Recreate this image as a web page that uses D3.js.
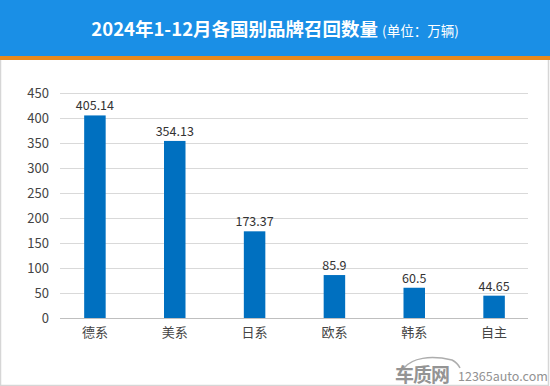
<!DOCTYPE html>
<html>
<head>
<meta charset="utf-8">
<script src="https://d3js.org/d3.v7.min.js"></script>
<style>
  body, html { margin: 0; padding: 0; background: #fff; }
  text { font-family: "Noto Sans CJK SC", "Microsoft YaHei", sans-serif; }
</style>
</head>
<body>
<div id="chart"></div>
<script>
var categories = ["德系", "美系", "日系", "欧系", "韩系", "自主"];
var recalls = [405.14, 354.13, 173.37, 85.9, 60.5, 44.65];
var yTicks = [0, 50, 100, 150, 200, 250, 300, 350, 400, 450];
var title = "2024年1-12月各国别品牌召回数量";
var unit = "(单位：万辆)";

var W = 550, H = 386;
var svg = d3.select("#chart").append("svg")
    .attr("width", W).attr("height", H);

// header
svg.append("rect").attr("x", 0).attr("y", 0).attr("width", W).attr("height", 56)
    .attr("fill", "#1a8fe6");
svg.append("rect").attr("x", 0).attr("y", 56).attr("width", W).attr("height", 4)
    .attr("fill", "#e8891c");

var t = svg.append("text").attr("x", 275).attr("y", 36)
    .attr("text-anchor", "middle").attr("fill", "#fff");
t.append("tspan").attr("font-size", 18.5).attr("font-weight", "bold").text(title);
t.append("tspan").attr("font-size", 13.5).attr("dx", 4).text(unit);

// frame
svg.append("path").attr("d", "M0.5,60 V385.5 H548.5 V60")
    .attr("fill", "none").attr("stroke", "#d6d6d6").attr("stroke-width", 1.5);

var x = d3.scaleBand().domain(categories).range([55, 534]).paddingInner(0).paddingOuter(0);
var y = d3.scaleLinear().domain([0, 450]).range([318, 93]);

// gridlines
svg.append("g").selectAll("line").data(yTicks.slice(1)).join("line")
    .attr("x1", 60).attr("x2", 528)
    .attr("y1", function(d) { return Math.round(y(d)) + 0.5; })
    .attr("y2", function(d) { return Math.round(y(d)) + 0.5; })
    .attr("stroke", "#d9d9d9").attr("stroke-width", 1);

// y labels
var yAxis = svg.append("g").attr("transform", "translate(49,0)")
    .call(d3.axisLeft(y).tickValues(yTicks).tickSize(0).tickPadding(0));
yAxis.select(".domain").remove();
yAxis.selectAll("text").attr("font-size", 13).attr("fill", "#444")
    .attr("font-family", "'Noto Sans CJK SC', sans-serif");

// bars
var bw = 21.5;
svg.append("g").selectAll("rect").data(recalls).join("rect")
    .attr("x", function(d, i) { return x(categories[i]) + x.bandwidth() / 2 - bw / 2; })
    .attr("y", function(d) { return y(d); })
    .attr("width", bw)
    .attr("height", function(d) { return y(0) - y(d); })
    .attr("fill", "#0070c0");

// value labels
svg.append("g").selectAll("text").data(recalls).join("text")
    .attr("x", function(d, i) { return x(categories[i]) + x.bandwidth() / 2; })
    .attr("y", function(d) { return y(d) - 5; })
    .attr("text-anchor", "middle").attr("font-size", 12.5).attr("fill", "#333")
    .text(function(d) { return d; });

// baseline axis
svg.append("line").attr("x1", 60).attr("x2", 528)
    .attr("y1", 318.5).attr("y2", 318.5)
    .attr("stroke", "#bfbfbf").attr("stroke-width", 1);

// category labels
svg.append("g").selectAll("text").data(categories).join("text")
    .attr("x", function(d) { return x(d) + x.bandwidth() / 2; })
    .attr("y", 337)
    .attr("text-anchor", "middle").attr("font-size", 13).attr("fill", "#444")
    .text(function(d) { return d; });

// watermark
var wm = svg.append("g").attr("opacity", 0.8);
wm.append("path")
    .attr("d", "M404,368 C412,358 430,355 452,360 C456,362 458,364 460,368")
    .attr("fill", "none").attr("stroke", "#999").attr("stroke-width", 1.5);
wm.append("text").attr("x", 395).attr("y", 382).attr("font-size", 19)
    .attr("font-weight", "bold").attr("fill", "#7a7a7a").attr("letter-spacing", -1)
    .text("车质网");
wm.append("text").attr("x", 458).attr("y", 381).attr("font-size", 12.5)
    .attr("fill", "#777").attr("font-family", "'Liberation Sans', Arial, sans-serif")
    .text("12365auto.com");
</script>
</body>
</html>
